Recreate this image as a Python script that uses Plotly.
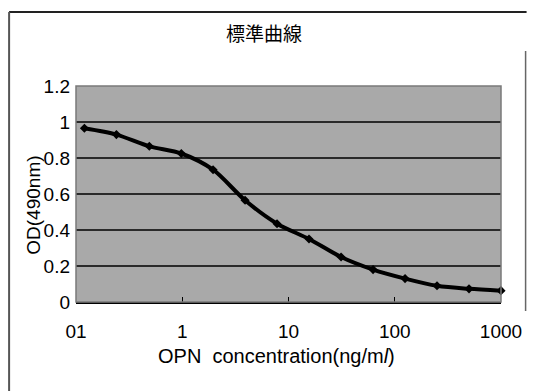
import plotly.graph_objects as go

# Data
conc = [0.12, 0.24, 0.49, 0.98, 1.95, 3.9, 7.8, 15.6, 31.25, 62.5, 125, 250, 500, 1000]
od = [0.965, 0.93, 0.865, 0.825, 0.735, 0.565, 0.435, 0.35, 0.25, 0.18, 0.13, 0.09, 0.073, 0.063]

x_tickvals = [0.1, 1, 10, 100, 1000]
x_ticktext = ["01", "1", "10", "100", "1000"]
y_tickvals = [0, 0.2, 0.4, 0.6, 0.8, 1, 1.2]
y_ticktext = ["0", "0.2", "0.4", "0.6", "0.8", "1", "1.2"]

title_text = "標準曲線"
x_title = "OPN  concentration(ng/m<i>l</i>)"
y_title = "OD(490nm)"

W, H = 534, 391
L, R, T, B = 76, 26, 86, 89
pw, ph = W - L - R, H - T - B

def px_x(p):
    return (p - L) / pw

def px_y(p):
    return (H - B - p) / ph

fig = go.Figure()
fig.add_trace(go.Scatter(
    x=conc, y=od, mode="lines+markers",
    line=dict(color="black", width=4, shape="spline", smoothing=0.8),
    marker=dict(symbol="diamond", size=7, color="black"),
    showlegend=False, cliponaxis=False,
))

font = "Liberation Sans, Arial, sans-serif"

fig.update_layout(
    width=W, height=H,
    margin=dict(l=L, r=R, t=T, b=B),
    paper_bgcolor="white",
    plot_bgcolor="#a9a9a9",
    font=dict(family=font, size=19, color="black"),
    xaxis=dict(
        type="log", range=[-1, 3],
        tickvals=x_tickvals, ticktext=x_ticktext,
        ticks="inside", ticklen=5, tickcolor="black", tickwidth=1,
        showgrid=False, zeroline=False,
        showline=True, linecolor="black", linewidth=1.5,
        ticklabelstandoff=11,
        tickfont=dict(size=19),
    ),
    yaxis=dict(
        range=[0, 1.2],
        tickvals=y_tickvals, ticktext=y_ticktext,
        showgrid=True, gridcolor="#2a2a2a", gridwidth=1.5,
        zeroline=False, showline=False, ticks="",
        ticklabelstandoff=5,
        tickfont=dict(size=19),
    ),
    shapes=[
        dict(type="rect", xref="paper", yref="paper", x0=0, x1=1, y0=0, y1=1,
             line=dict(color="#7a7a7a", width=1.5), layer="above"),
        dict(type="line", xref="paper", yref="paper", x0=px_x(8), x1=px_x(534), y0=px_y(12), y1=px_y(12),
             line=dict(color="#222", width=2)),
        dict(type="line", xref="paper", yref="paper", x0=px_x(8), x1=px_x(8), y0=px_y(12), y1=px_y(391),
             line=dict(color="#555", width=2)),
        dict(type="line", xref="paper", yref="paper", x0=px_x(533), x1=px_x(533), y0=px_y(51), y1=px_y(311),
             line=dict(color="#666", width=1.5)),
    ],
    annotations=[
        dict(text=title_text, xref="paper", yref="paper", x=px_x(267), y=px_y(33),
             showarrow=False, xanchor="center", yanchor="middle",
             font=dict(family="Noto Sans CJK JP", size=19)),
        dict(text=x_title, xref="paper", yref="paper", x=px_x(280), y=px_y(356),
             showarrow=False, xanchor="center", yanchor="middle",
             font=dict(family=font, size=20)),
        dict(text=y_title, xref="paper", yref="paper", x=px_x(32), y=px_y(205),
             showarrow=False, xanchor="center", yanchor="middle", textangle=-90,
             font=dict(family=font, size=19)),
    ],
)

fig.write_html("out.html")
